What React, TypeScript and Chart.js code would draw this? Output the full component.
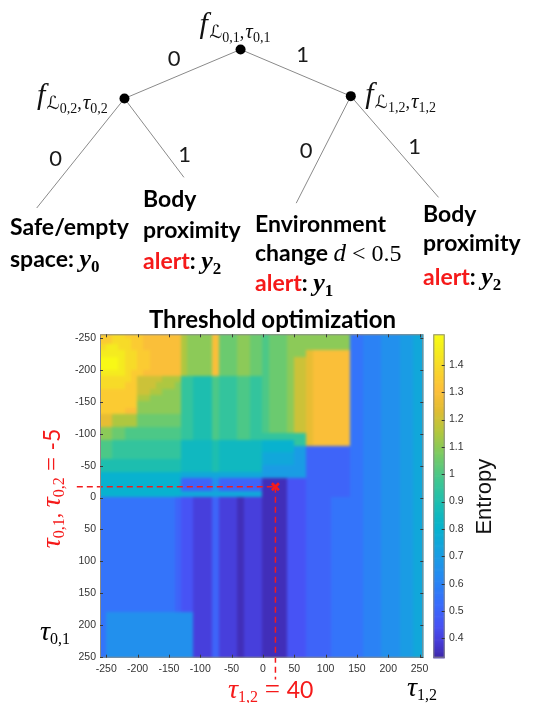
import React, { useEffect, useRef } from 'react';
import { Chart, registerables } from 'chart.js';

Chart.register(...registerables);

// ================= DATA =================
// heat-map cell centres (threshold values)
const tau12Centers = [-255, -245, -235, -225, -215, -205, -195, -185, -175, -165, -155, -145, -135, -125, -115, -105, -95, -85, -75, -65, -55, -45, -35, -25, -15, -5, 5, 15, 25, 35, 45, 55, 65, 75, 85, 95, 105, 115, 125, 135, 145, 155, 165, 175, 185, 195, 205, 215, 225, 235, 245, 255];
const tau01Centers = [-255, -245, -235, -225, -215, -205, -195, -185, -175, -165, -155, -145, -135, -125, -115, -105, -95, -85, -75, -65, -55, -45, -35, -25, -15, -5, 5, 15, 25, 35, 45, 55, 65, 75, 85, 95, 105, 115, 125, 135, 145, 155, 165, 175, 185, 195, 205, 215, 225, 235, 245, 255];
const xTickValues = [-250, -200, -150, -100, -50, 0, 50, 100, 150, 200, 250];
const yTickValues = [-250, -200, -150, -100, -50, 0, 50, 100, 150, 200, 250];
const colorbarTicks = [0.4, 0.5, 0.6, 0.7, 0.8, 0.9, 1.0, 1.1, 1.2, 1.3, 1.4];
const entropyMin = 0.329;
const entropyMax = 1.512;
// entropy level keys -> entropy values
const entropyLevelKeys = 'abcdefghijklmnopqrstuvwx';
const entropyLevelValues = [0.35, 0.40, 0.45, 0.50, 0.55, 0.60, 0.65, 0.70, 0.75, 0.80, 0.85, 0.90, 0.95, 1.00, 1.05, 1.10, 1.15, 1.20, 1.25, 1.30, 1.35, 1.40, 1.45, 1.50];
// one string per tau01 row (top = -255), one key per tau12 column (left = -255)
const entropyRows = [
  'uuvvuuutttttt qpppptoooppoo nooopppppppppp eefffggghhii',
  'uuvvvuutttttt qpppptoooppoo nooopppppppppp eefffggghhii',
  'vwwvvuutttttt qpppptoooppoo nooopppppppppp eefffggghhii',
  'wwwwvvuuttttt qpppptoooppoo nooopppstttttt eefffggghhii',
  'xxxwvvuuttttt qpppptoooppoo noooprrstttttt eefffggghhii',
  'xxxwvvuuttttt qpppptoooppoo noooprrstttttt eefffggghhii',
  'wwwwvuutttttt qpppptoooppoo noooprrstttttt eefffggghhii',
  'vvvvvurrrrqqq mmlllnmmmnnmm noooprrstttttt eefffggghhii',
  'vvvvuurrrqqqp mmlllnmmmnnmm noooprrstttttt eefffggghhii',
  'uuuuuurrqqppp mmlllnmmmnnmm noooprrstttttt eefffggghhii',
  'uuuuuuqqppppp mmlllnmmmnnmm noooprrstttttt eefffggghhii',
  'uuuuuuppppppp mmlllnmmmnnmm noooprrstttttt eefffggghhii',
  'uuuuttppppppp mmlllnmmmnnmm noooprrstttttt eefffggghhii',
  'ssqqqqooooooo mmlllnmmmnnmm noooprrstttttt eefffggghhii',
  'ssqqqqooooooo mmlllnmmmnnmm noooprrstttttt eefffggghhii',
  'ppoonnnnnnnnn mmlllnmmmnnmm noooprrstttttt eefffggghhii',
  'ppoonnnnnnnnn mmlllnmmmnnmm mmmmmmmstttttt eefffggghhii',
  'nnmmmmmmmmmmm kkkkklkkkkkkk jjjjjmmstttttt eefffggghhii',
  'nnmmmmmmmmmmm kkkkklkkkkkkk jjjjjhhddddddd eefffggghhii',
  'nnmmmmmmmmmmm kkkkklkkkkkkk iiiiihhddddddd eefffggghhii',
  'lllllllllllll kkkkklkkkkkkk iiiiihhddddddd eefffggghhii',
  'lllllllllllll kkkkklkkkkkkk hhhhhhhddddddd eefffggghhii',
  'jjjjjjjjjjjjj iiiiiiiiiiiii hhhhhhhddddddd eefffggghhii',
  'jjjjjjjjjjjjj dddddgddddddd aaaacccddddddd eefffggghhii',
  'jjjjjjjjjjjjj dddddgddddddd aaaacccddddddd eefffggghhii',
  'jjjjjjjjjjjjj iiiiiiiiiiiii aaaacccddddddd eefffggghhii',
  'eeeeeeeeeeeed ccbbbdbbbabbb aaaacccddddeee eefffggghhii',
  'eeeeeeeeeeeed ccbbbdbbbabbb aaaacccddddeee eefffggghhii',
  'eeeeeeeeeeeed ccbbbdbbbabbb aaaacccddddeee eefffggghhii',
  'eeeeeeeeeeeed ccbbbdbbbabbb aaaacccddddeee eefffggghhii',
  'eeeeeeeeeeeed ccbbbdbbbabbb aaaacccddddeee eefffggghhii',
  'eeeeeeeeeeeed ccbbbdbbbabbb aaaacccddddeee eefffggghhii',
  'eeeeeeeeeeeed ccbbbdbbbabbb aaaacccddddeee eefffggghhii',
  'eeeeeeeeeeeed ccbbbdbbbabbb aaaacccddddeee eefffggghhii',
  'eeeeeeeeeeeed ccbbbdbbbabbb aaaacccddddeee eefffggghhii',
  'eeeeeeeeeeeed ccbbbdbbbabbb aaaacccddddeee eefffggghhii',
  'eeeeeeeeeeeed ccbbbdbbbabbb aaaacccddddeee eefffggghhii',
  'eeeeeeeeeeeed ccbbbdbbbabbb aaaacccddddeee eefffggghhii',
  'eeeeeeeeeeeed ccbbbdbbbabbb aaaacccddddeee eefffggghhii',
  'eeeeeeeeeeeed ccbbbdbbbabbb aaaacccddddeee eefffggghhii',
  'eeeeeeeeeeeed ccbbbdbbbabbb aaaacccddddeee eefffggghhii',
  'eeeeeeeeeeeed ccbbbdbbbabbb aaaacccddddeee eefffggghhii',
  'eeeeeeeeeeeed ccbbbdbbbabbb aaaacccddddeee eefffggghhii',
  'eeeeeeeeeeeed ccbbbdbbbabbb aaaacccddddeee eefffggghhii',
  'egggggggggggg ggbbbdbbbabbb aaaacccddddeee eefffggghhii',
  'egggggggggggg ggbbbdbbbabbb aaaacccddddeee eefffggghhii',
  'egggggggggggg ggbbbdbbbabbb aaaacccddddeee eefffggghhii',
  'egggggggggggg ggbbbdbbbabbb aaaacccddddeee eefffggghhii',
  'egggggggggggg ggbbbdbbbabbb aaaacccddddeee eefffggghhii',
  'egggggggggggg ggbbbdbbbabbb aaaacccddddeee eefffggghhii',
  'egggggggggggg ggbbbdbbbabbb aaaacccddddeee eefffggghhii',
  'egggggggggggg ggbbbdbbbabbb aaaacccddddeee eefffggghhii',
];
// chosen thresholds marked with the red cross
const optimumTau12 = 20;
const optimumTau01 = -17;
const guideLeftTau12 = -297;
const guideBottomTau01 = 285;

// decision tree (diagram units)
const treeNodes = [
  { id: 'n01', x: 240, y: 46, sub: '0,1' },
  { id: 'n02', x: 121.7, y: 96.7, sub: '0,2' },
  { id: 'n12', x: 352.3, y: 94.3, sub: '1,2' },
];
const treeLeaves = [
  { id: 'leafSafe', x: 32.3, y: 210 },
  { id: 'leafBody1', x: 182.3, y: 178.3 },
  { id: 'leafEnv', x: 296.7, y: 205 },
  { id: 'leafBody2', x: 441.7, y: 199 },
];
const treeEdges = [
  ['n01', 'n02', '0'],
  ['n01', 'n12', '1'],
  ['n02', 'leafSafe', '0'],
  ['n02', 'leafBody1', '1'],
  ['n12', 'leafEnv', '0'],
  ['n12', 'leafBody2', '1'],
];

// ================= STYLE =================
const RED = '#f51a1a';
const TICK_COLOR = '#333333';
const CELL_HALF = 5;
const PARULA = [
  [0.00, 0.2422, 0.1504, 0.6603],
  [0.05, 0.2760, 0.2300, 0.8400],
  [0.10, 0.2810, 0.3228, 0.9579],
  [0.17, 0.2200, 0.4300, 0.9900],
  [0.25, 0.1500, 0.5400, 0.9500],
  [0.33, 0.0900, 0.6300, 0.8800],
  [0.40, 0.0300, 0.7000, 0.8100],
  [0.47, 0.0900, 0.7400, 0.7100],
  [0.55, 0.2500, 0.7800, 0.5700],
  [0.63, 0.4800, 0.7950, 0.3900],
  [0.70, 0.7000, 0.7800, 0.2400],
  [0.77, 0.8900, 0.7400, 0.2000],
  [0.83, 0.9950, 0.7500, 0.2300],
  [0.90, 0.9700, 0.8500, 0.1600],
  [0.96, 0.9600, 0.9400, 0.1100],
  [1.00, 0.9769, 0.9839, 0.0805],
];

function colorFor(v: number): string {
  let t = (v - entropyMin) / (entropyMax - entropyMin);
  t = Math.max(0, Math.min(1, t));
  for (let i = 1; i < PARULA.length; i++) {
    const a = PARULA[i - 1];
    const b = PARULA[i];
    if (t <= b[0]) {
      const f = (t - a[0]) / (b[0] - a[0]);
      const c = [1, 2, 3].map((k) => Math.round(255 * (a[k] + (b[k] - a[k]) * f)));
      return `rgb(${c[0]},${c[1]},${c[2]})`;
    }
  }
  const l = PARULA[PARULA.length - 1];
  return `rgb(${Math.round(l[1] * 255)},${Math.round(l[2] * 255)},${Math.round(l[3] * 255)})`;
}

const BOLD = (s: number) => `bold ${s}px Lato, "Liberation Sans", sans-serif`;
const REG = (s: number) => `${s}px Lato, "Liberation Sans", sans-serif`;
const MI = (s: number) => `italic ${s}px "Liberation Serif", "DejaVu Serif", serif`;
const MR = (s: number) => `${s}px "Liberation Serif", "DejaVu Serif", serif`;
const MBI = (s: number) => `italic bold ${s}px "Liberation Serif", "DejaVu Serif", serif`;
const MB = (s: number) => `bold ${s}px "Liberation Serif", "DejaVu Serif", serif`;
const SCRIPT = (s: number) => `${s}px "DejaVu Sans", "DejaVu Serif", serif`;

type Run = { t: string; font: string; color?: string; dy?: number; gap?: number };

function runsWidth(ctx: CanvasRenderingContext2D, runs: Run[]) {
  let w = 0;
  for (const r of runs) {
    ctx.font = r.font;
    w += ctx.measureText(r.t).width + (r.gap || 0);
  }
  return w;
}
function drawRuns(ctx: CanvasRenderingContext2D, x: number, y: number, runs: Run[], color: string) {
  let cx = x;
  ctx.textAlign = 'left';
  ctx.textBaseline = 'alphabetic';
  for (const r of runs) {
    ctx.font = r.font;
    ctx.fillStyle = r.color || color;
    ctx.fillText(r.t, cx, y + (r.dy || 0));
    cx += ctx.measureText(r.t).width + (r.gap || 0);
  }
}

const LEAF = 23;
const yVar = (sub: string): Run[] => [
  { t: 'y', font: MBI(26) },
  { t: sub, font: MB(17), dy: 5 },
];
const alertLine = (sub: string): Run[] => [
  { t: 'alert', font: BOLD(LEAF), color: RED },
  { t: ': ', font: BOLD(LEAF) },
  ...yVar(sub),
];
const word = (t: string): Run[] => [{ t, font: BOLD(LEAF) }];

const leafBlocks = [
  { x: 10, baselines: [234.5, 266.5], lines: [word('Safe/empty'), [{ t: 'space: ', font: BOLD(LEAF) }, ...yVar('0')]] },
  { x: 143, baselines: [206.5, 238, 269], lines: [word('Body'), word('proximity'), alertLine('2')] },
  {
    x: 255,
    baselines: [231.5, 260.5, 290.5],
    lines: [
      word('Environment'),
      [{ t: 'change ', font: BOLD(LEAF) }, { t: 'd', font: MI(25) }, { t: ' < 0.5', font: MR(24) }],
      alertLine('1'),
    ],
  },
  { x: 423, baselines: [221.5, 250.5, 284.5], lines: [word('Body'), word('proximity'), alertLine('2')] },
];
const nodeLabelOffsets: Record<string, [number, number]> = {
  n01: [-41, -16],
  n02: [-87.5, 5.5],
  n12: [14.4, 7],
};
const edgeLabelOffsets = [[-8.5, -16], [7, -19.3], [-25, 5], [30.5, 16], [-17.5, 0.5], [20, -1]];

const nodeLabelRuns = (sub: string): Run[] => [
  { t: 'f', font: MI(30), gap: 1.5 },
  { t: '\u2112', font: SCRIPT(18), dy: 5 },
  { t: sub, font: MR(14), dy: 9 },
  { t: ',', font: MR(18), dy: 5, gap: 1 },
  { t: '\u03C4', font: MI(21), dy: 5 },
  { t: sub, font: MR(14), dy: 9 },
];
const tauRuns = (sub: string): Run[] => [
  { t: '\u03C4', font: MI(28) },
  { t: sub, font: MR(16), dy: 4 },
];

// ================= TREE CHART =================
function makeTree(canvas: HTMLCanvasElement) {
  const all: Record<string, { x: number; y: number }> = {};
  [...treeNodes, ...treeLeaves].forEach((n) => (all[n.id] = n));

  const labels = {
    id: 'treeLabels',
    afterDatasetsDraw(chart: any) {
      const { ctx } = chart;
      const xs = chart.scales.x;
      const ys = chart.scales.y;
      ctx.save();
      treeNodes.forEach((n) => {
        const [dx, dy] = nodeLabelOffsets[n.id];
        drawRuns(ctx, xs.getPixelForValue(n.x) + dx, ys.getPixelForValue(n.y) + dy, nodeLabelRuns(n.sub), '#111');
      });
      treeEdges.forEach(([a, b, lab], i) => {
        const mx = (xs.getPixelForValue(all[a].x) + xs.getPixelForValue(all[b].x)) / 2;
        const my = (ys.getPixelForValue(all[a].y) + ys.getPixelForValue(all[b].y)) / 2;
        ctx.font = REG(22);
        ctx.fillStyle = '#1a1a1a';
        ctx.textAlign = 'center';
        ctx.textBaseline = 'alphabetic';
        ctx.fillText(lab, mx + edgeLabelOffsets[i][0], my + edgeLabelOffsets[i][1] + 8);
      });
      leafBlocks.forEach((blk) => {
        blk.lines.forEach((ln, i) => drawRuns(ctx, blk.x, blk.baselines[i], ln, '#000'));
      });
      ctx.restore();
    },
  };

  return new Chart(canvas, {
    type: 'scatter',
    data: {
      datasets: [
        {
          data: treeNodes.map((n) => ({ x: n.x, y: n.y })),
          pointRadius: 5,
          pointBackgroundColor: '#000',
          pointBorderWidth: 0,
          showLine: false,
          order: 0,
        } as any,
        ...treeEdges.map(([a, b]) => ({
          data: [
            { x: all[a].x, y: all[a].y },
            { x: all[b].x, y: all[b].y },
          ],
          showLine: true,
          borderColor: '#8a8a8a',
          borderWidth: 1,
          pointRadius: 0,
          order: 1,
        })),
      ],
    },
    options: {
      animation: false,
      responsive: false,
      devicePixelRatio: 1,
      events: [],
      layout: { padding: 0 },
      plugins: { legend: { display: false }, tooltip: { enabled: false } },
      scales: {
        x: { type: 'linear', min: 0, max: 542, display: false },
        y: { type: 'linear', min: 0, max: 300, reverse: true, display: false },
      },
    },
    plugins: [labels],
  } as any);
}

// ================= HEAT-MAP CHART =================
function makeHeat(canvas: HTMLCanvasElement) {
  const cells = {
    id: 'heatCells',
    beforeDatasetsDraw(chart: any) {
      const { ctx, chartArea: a } = chart;
      const xs = chart.scales.x;
      const ys = chart.scales.y;
      const off = document.createElement('canvas');
      off.width = chart.width;
      off.height = chart.height;
      const o = off.getContext('2d')!;
      entropyRows.forEach((row, r) => {
        const keys = row.replace(/\s+/g, '');
        const yc = tau01Centers[r];
        const ya = ys.getPixelForValue(yc - CELL_HALF);
        const yb = ys.getPixelForValue(yc + CELL_HALF);
        for (let c = 0; c < tau12Centers.length; c++) {
          const k = entropyLevelKeys.indexOf(keys[c] || keys[keys.length - 1]);
          const v = entropyLevelValues[k];
          const xc = tau12Centers[c];
          const xa = xs.getPixelForValue(xc - CELL_HALF);
          const xb = xs.getPixelForValue(xc + CELL_HALF);
          o.fillStyle = colorFor(v);
          o.fillRect(
            Math.floor(Math.min(xa, xb)),
            Math.floor(Math.min(ya, yb)),
            Math.ceil(Math.abs(xb - xa)) + 1,
            Math.ceil(Math.abs(yb - ya)) + 1
          );
        }
      });
      ctx.save();
      ctx.beginPath();
      ctx.rect(a.left, a.top, a.right - a.left, a.bottom - a.top);
      ctx.clip();
      ctx.drawImage(off, 0, 0);
      ctx.filter = 'blur(1.8px)';
      ctx.drawImage(off, 0, 0);
      ctx.restore();
    },
    afterDraw(chart: any) {
      const { ctx, chartArea: a } = chart;
      const xs = chart.scales.x;
      const ys = chart.scales.y;
      const cb = chart.scales.cb;
      ctx.save();
      ctx.strokeStyle = '#8a8a8a';
      ctx.lineWidth = 1;
      ctx.strokeRect(a.left + 0.5, a.top + 0.5, a.right - a.left - 1, a.bottom - a.top - 1);
      ctx.strokeStyle = '#3a3a3a';
      ctx.beginPath();
      xTickValues.forEach((v) => {
        const px = Math.round(xs.getPixelForValue(v)) + 0.5;
        ctx.moveTo(px, a.bottom);
        ctx.lineTo(px, a.bottom - 3);
        ctx.moveTo(px, a.top);
        ctx.lineTo(px, a.top + 3);
      });
      yTickValues.forEach((v) => {
        const py = Math.round(ys.getPixelForValue(v)) + 0.5;
        ctx.moveTo(a.left, py);
        ctx.lineTo(a.left + 3, py);
        ctx.moveTo(a.right, py);
        ctx.lineTo(a.right - 3, py);
      });
      ctx.stroke();

      // colour bar
      const cbl = a.right + 10;
      const cbw = 11.4;
      const step = 0.004;
      for (let v = cb.min; v < cb.max; v += step) {
        const p1 = cb.getPixelForValue(v);
        const p2 = cb.getPixelForValue(Math.min(v + step, cb.max));
        ctx.fillStyle = colorFor(v + step / 2);
        ctx.fillRect(cbl, p2, cbw, p1 - p2 + 0.7);
      }
      ctx.strokeStyle = '#8a8a8a';
      ctx.strokeRect(cbl + 0.5, cb.top + 0.5, cbw - 1, cb.bottom - cb.top - 1);
      ctx.strokeStyle = '#333';
      ctx.beginPath();
      colorbarTicks.forEach((v) => {
        const py = Math.round(cb.getPixelForValue(v)) + 0.5;
        ctx.moveTo(cbl + cbw, py);
        ctx.lineTo(cbl + cbw - 3, py);
      });
      ctx.stroke();

      // title
      ctx.font = BOLD(24);
      ctx.fillStyle = '#000';
      ctx.textAlign = 'center';
      ctx.textBaseline = 'alphabetic';
      ctx.fillText('Threshold optimization', 272.5, 28);

      // colour bar label
      ctx.save();
      ctx.translate(491, 196.7);
      ctx.rotate(-Math.PI / 2);
      ctx.font = '22px "Liberation Sans", Arial, sans-serif';
      ctx.fillStyle = '#111';
      ctx.textAlign = 'center';
      ctx.fillText('Entropy', 0, 0);
      ctx.restore();

      // red vertical annotation
      const vert: Run[] = [
        ...tauRuns('0,1'),
        { t: ', ', font: MR(22) },
        ...tauRuns('0,2'),
        { t: ' = ', font: MR(25) },
        { t: '-5', font: REG(23) },
      ];
      const vw = runsWidth(ctx, vert);
      ctx.save();
      ctx.translate(59.5, 188.5 + vw / 2);
      ctx.rotate(-Math.PI / 2);
      drawRuns(ctx, 0, 0, vert, RED);
      ctx.restore();

      // red bottom annotation
      drawRuns(ctx, 228, 397.5, [...tauRuns('1,2'), { t: ' = ', font: MR(27) }, { t: '40', font: REG(23) }], RED);
      // axis symbols
      drawRuns(ctx, 407, 395.5, tauRuns('1,2'), '#000');
      drawRuns(ctx, 40, 339.5, tauRuns('0,1'), '#000');
      ctx.restore();
    },
  };

  const tickFont = { family: '"Liberation Sans", Arial, sans-serif', size: 10.5 };
  const guideStyle = {
    showLine: true,
    borderColor: RED,
    borderWidth: 1.5,
    borderDash: [6, 4],
    pointRadius: 0,
    clip: false,
  };

  return new Chart(canvas, {
    type: 'scatter',
    data: {
      datasets: [
        {
          ...guideStyle,
          data: [
            { x: guideLeftTau12, y: optimumTau01 },
            { x: optimumTau12, y: optimumTau01 },
          ],
        },
        {
          ...guideStyle,
          data: [
            { x: optimumTau12, y: optimumTau01 },
            { x: optimumTau12, y: guideBottomTau01 },
          ],
        },
        {
          data: [{ x: optimumTau12, y: optimumTau01 }],
          showLine: false,
          pointStyle: 'crossRot',
          pointRadius: 5,
          pointBorderColor: RED,
          borderColor: RED,
          pointBorderWidth: 2.6,
          clip: false,
        },
      ],
    },
    options: {
      animation: false,
      responsive: false,
      devicePixelRatio: 1,
      events: [],
      layout: { padding: { top: 34.3, left: 0, right: 0, bottom: 0 } },
      plugins: { legend: { display: false }, tooltip: { enabled: false } },
      scales: {
        x: {
          type: 'linear',
          position: 'bottom',
          min: -260,
          max: 256,
          afterBuildTicks: (s: any) => {
            s.ticks = xTickValues.map((value) => ({ value }));
          },
          afterFit: (s: any) => {
            s.height = 45.3;
          },
          grid: { display: false, drawTicks: false },
          border: { display: false },
          ticks: { color: TICK_COLOR, font: tickFont, padding: 5, maxRotation: 0, minRotation: 0, autoSkip: false, callback: (v: any) => String(v) },
        },
        y: {
          type: 'linear',
          position: 'left',
          min: -256,
          max: 251,
          reverse: true,
          afterBuildTicks: (s: any) => {
            s.ticks = yTickValues.map((value) => ({ value }));
          },
          afterFit: (s: any) => {
            s.width = 100;
          },
          grid: { display: false, drawTicks: false },
          border: { display: false },
          ticks: { color: TICK_COLOR, font: tickFont, padding: 4, autoSkip: false, callback: (v: any) => String(v) },
        },
        cb: {
          type: 'linear',
          position: 'right',
          min: entropyMin,
          max: entropyMax,
          afterBuildTicks: (s: any) => {
            s.ticks = colorbarTicks.map((value) => ({ value }));
          },
          afterFit: (s: any) => {
            s.width = 118.7;
          },
          grid: { display: false, drawTicks: false, drawOnChartArea: false },
          border: { display: false },
          ticks: {
            color: TICK_COLOR,
            font: tickFont,
            padding: 25.7,
            autoSkip: false,
            callback: (v: any) => String(Math.round(Number(v) * 10) / 10),
          },
        },
      },
    },
    plugins: [cells],
  } as any);
}

export default function App() {
  const treeRef = useRef<HTMLCanvasElement>(null);
  const heatRef = useRef<HTMLCanvasElement>(null);
  useEffect(() => {
    const tree = makeTree(treeRef.current!);
    const heat = makeHeat(heatRef.current!);
    return () => {
      tree.destroy();
      heat.destroy();
    };
  }, []);
  return (
    <div style={{ position: 'absolute', left: 0, top: 0, width: 542, height: 703, background: '#fff', overflow: 'hidden' }}>
      <canvas ref={treeRef} width={542} height={300} style={{ position: 'absolute', left: 0, top: 0, width: 542, height: 300 }} />
      <canvas ref={heatRef} width={542} height={403} style={{ position: 'absolute', left: 0, top: 300, width: 542, height: 403 }} />
    </div>
  );
}
